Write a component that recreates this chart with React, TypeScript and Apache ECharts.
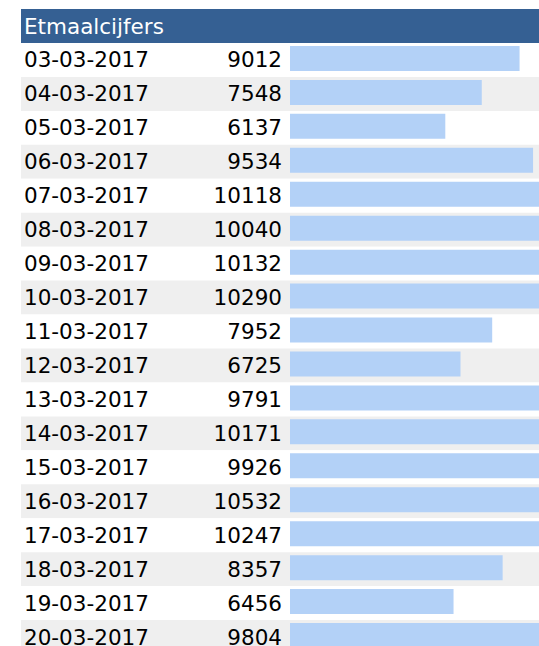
import React, { useEffect, useRef } from "react";
import * as echarts from "echarts";

const dates = [
  "03-03-2017", "04-03-2017", "05-03-2017", "06-03-2017", "07-03-2017", "08-03-2017",
  "09-03-2017", "10-03-2017", "11-03-2017", "12-03-2017", "13-03-2017", "14-03-2017",
  "15-03-2017", "16-03-2017", "17-03-2017", "18-03-2017", "19-03-2017", "20-03-2017",
];
const counts = [
  9012, 7548, 6137, 9534, 10118, 10040, 10132, 10290, 7952, 6725, 9791, 10171,
  9926, 10532, 10247, 8357, 6456, 9804,
];
const title = "Etmaalcijfers";

const FONT = "DejaVu Sans";
const FS = 21.5;

export default function App() {
  const ref = useRef<HTMLDivElement>(null);
  useEffect(() => {
    if (!ref.current) return;
    const chart = echarts.init(ref.current, null, { renderer: "svg" });
    chart.setOption({
      animation: false,
      backgroundColor: "#ffffff",
      grid: [
        { left: 21, right: 0, top: 43, height: 611 },
        { left: 290, right: 0, top: 41.5, height: 611 },
      ],
      xAxis: [
        { type: "value", gridIndex: 0, min: 0, max: 1, show: false },
        { type: "value", gridIndex: 1, min: 125, max: 9764, show: false },
      ],
      yAxis: [
        {
          type: "category",
          gridIndex: 0,
          data: dates,
          inverse: true,
          axisLine: { show: false },
          axisTick: { show: false },
          splitLine: { show: false },
          splitArea: {
            show: true,
            interval: 0,
            areaStyle: { color: ["#ffffff", "#efefef"] },
          },
          axisLabel: {
            inside: true,
            interval: 0,
            margin: 3,
            formatter: (value: string, index: number) =>
              `{d|${value}}{n|${counts[index]}}`,
            rich: {
              d: { width: 194, fontSize: FS, fontFamily: FONT, color: "#000000", align: "left" },
              n: { width: 64, fontSize: FS, fontFamily: FONT, color: "#000000", align: "right" },
            },
          },
        },
        {
          type: "category",
          gridIndex: 1,
          data: dates,
          inverse: true,
          show: false,
        },
      ],
      series: [
        {
          type: "bar",
          xAxisIndex: 1,
          yAxisIndex: 1,
          data: counts,
          barWidth: 25,
          clip: true,
          itemStyle: { color: "#b3d1f7" },
          silent: true,
        },
      ],
      graphic: [
        {
          type: "rect",
          shape: { x: 21, y: 9, width: 518, height: 34 },
          style: { fill: "#356093" },
          silent: true,
        },
        {
          type: "text",
          x: 24,
          y: 26,
          style: {
            text: title,
            fill: "#ffffff",
            font: `${FS}px "${FONT}"`,
            verticalAlign: "middle",
            align: "left",
          },
          silent: true,
        },
      ],
    });
    return () => chart.dispose();
  }, []);
  return (
    <div
      style={{ position: "absolute", left: 0, top: 0, width: 539, height: 646, overflow: "hidden" }}
    >
      <div ref={ref} style={{ width: 539, height: 660 }} />
    </div>
  );
}
